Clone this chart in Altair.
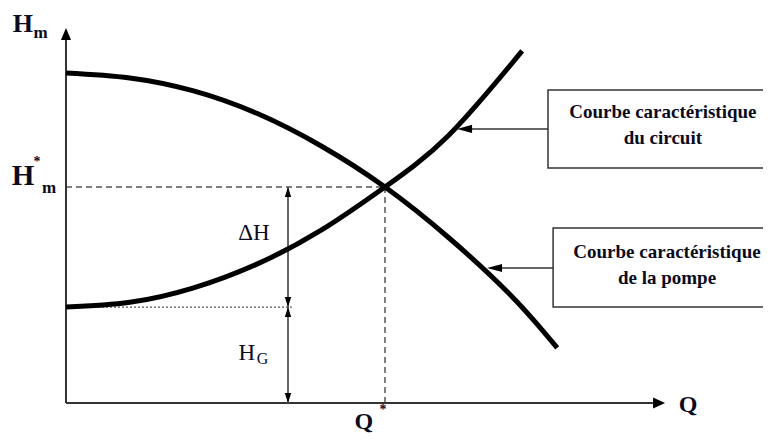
import altair as alt
import pandas as pd

# Pump characteristic curve (Q, H)
pump_q = [0, 20, 40, 60, 80, 100, 120, 140, 154]
pump_h = [152.8, 150.5, 144.5, 134, 119, 100, 76.5, 49, 25.5]

# Circuit characteristic curve
circ_q = [0, 20, 40, 60, 80, 100, 120, 143]
circ_h = [44.4, 46.6, 53.3, 64.4, 80, 100, 124, 163]

# Operating point and static head
Q_STAR = 100
H_STAR = 100
H_G = 44.4
DH_Q = 69.6

XDOM = [-18.18, 218.5]
YDOM = [-14.81, 182.87]
xs = alt.Scale(domain=XDOM, nice=False, zero=False)
ys = alt.Scale(domain=YDOM, nice=False, zero=False)

def X(f="x"):
    return alt.X(f"{f}:Q", scale=xs, axis=None)

def Y(f="y"):
    return alt.Y(f"{f}:Q", scale=ys, axis=None)

curves = pd.DataFrame(
    [{"c": "pompe", "x": q, "y": h, "o": i} for i, (q, h) in enumerate(zip(pump_q, pump_h))]
    + [{"c": "circuit", "x": q, "y": h, "o": i} for i, (q, h) in enumerate(zip(circ_q, circ_h))]
)

curve_layer = alt.Chart(curves).mark_line(
    color="black", strokeWidth=5, interpolate="natural", strokeCap="butt"
).encode(x=X(), y=Y(), detail="c:N", order="o:Q")

# axes
axes = pd.DataFrame([
    {"x": 0, "x2": 0, "y": 0, "y2": 168},
    {"x": 0, "x2": 184, "y": 0, "y2": 0},
])
axes_layer = alt.Chart(axes).mark_rule(color="#333", strokeWidth=2).encode(
    x=X(), x2="x2:Q", y=Y(), y2="y2:Q")

dashed = pd.DataFrame([
    {"x": 0, "x2": Q_STAR, "y": H_STAR, "y2": H_STAR},
    {"x": Q_STAR, "x2": Q_STAR, "y": 0, "y2": H_STAR},
])
dashed_layer = alt.Chart(dashed).mark_rule(color="#555", strokeWidth=1.5, strokeDash=[6, 4]).encode(
    x=X(), x2="x2:Q", y=Y(), y2="y2:Q")

dotted = pd.DataFrame([{"x": 0, "x2": 70.8, "y": H_G, "y2": H_G}])
dotted_layer = alt.Chart(dotted).mark_rule(color="#555", strokeWidth=1.2, strokeDash=[2, 2]).encode(
    x=X(), x2="x2:Q", y=Y(), y2="y2:Q")

grey = pd.DataFrame([
    {"x": DH_Q, "x2": DH_Q, "y": 0, "y2": H_STAR},
    {"x": 126, "x2": 151.1, "y": 126.9, "y2": 126.9},
    {"x": 135, "x2": 152.7, "y": 62.5, "y2": 62.5},
])
grey_layer = alt.Chart(grey).mark_rule(color="#666", strokeWidth=2).encode(
    x=X(), x2="x2:Q", y=Y(), y2="y2:Q")

UP = "M0,0L-0.42,1L0.42,1Z"
UP_S = "M0,0L-0.32,1L0.32,1Z"
DOWN_S = "M0,0L-0.32,-1L0.32,-1Z"
RIGHT = "M0,0L-1,-0.45L-1,0.45Z"
LEFT = "M0,0L1,-0.27L1,0.27Z"
heads = pd.DataFrame([
    {"x": 0, "y": 173.6, "s": UP, "z": 576},
    {"x": 187.8, "y": 0, "s": RIGHT, "z": 576},
    {"x": DH_Q, "y": H_STAR, "s": UP_S, "z": 400},
    {"x": DH_Q, "y": H_G, "s": DOWN_S, "z": 400},
    {"x": DH_Q, "y": H_G, "s": UP_S, "z": 400},
    {"x": DH_Q, "y": 0, "s": DOWN_S, "z": 400},
    {"x": 122.6, "y": 126.9, "s": LEFT, "z": 900},
    {"x": 132, "y": 62.5, "s": LEFT, "z": 900},
])
heads_layer = alt.Chart(heads).mark_point(filled=True, color="black", opacity=1, strokeWidth=0).encode(
    x=X(), y=Y(),
    shape=alt.Shape("s:N", scale=None),
    size=alt.Size("z:Q", scale=None))

boxes = pd.DataFrame([
    {"x": 151.1, "x2": 240, "y": 108.8, "y2": 144.9},
    {"x": 152.7, "x2": 240, "y": 44.4, "y2": 81.0},
])
box_layer = alt.Chart(boxes).mark_rect(fill="white", stroke="#333", strokeWidth=1.5, clip=True).encode(
    x=X(), x2="x2:Q", y=Y(), y2="y2:Q")

FONT = "Liberation Serif, Times New Roman, serif"
labels = pd.DataFrame([
    {"t": "H", "x": -13.5, "y": 175.5, "fs": 26, "w": "bold"},
    {"t": "m", "x": -8.0, "y": 171.3, "fs": 17, "w": "bold"},
    {"t": "H", "x": -13.5, "y": 105.1, "fs": 29, "w": "bold"},
    {"t": "*", "x": -9.1, "y": 111.6, "fs": 14, "w": "bold"},
    {"t": "m", "x": -5.3, "y": 99.5, "fs": 17, "w": "bold"},
    {"t": "Q", "x": 195, "y": -0.9, "fs": 24, "w": "bold"},
    {"t": "Q", "x": 93.4, "y": -8.6, "fs": 24, "w": "bold"},
    {"t": "*", "x": 99.4, "y": -3.2, "fs": 14, "w": "bold"},
    {"t": "ΔH", "x": 58.9, "y": 78.7, "fs": 23, "w": "normal"},
    {"t": "H", "x": 56.7, "y": 23.1, "fs": 23, "w": "normal"},
    {"t": "G", "x": 61.6, "y": 20.6, "fs": 16, "w": "normal"},
    {"t": "Courbe caractéristique", "x": 187.1, "y": 134.7, "fs": 19, "w": "bold"},
    {"t": "du circuit", "x": 187.1, "y": 122.5, "fs": 19, "w": "bold"},
    {"t": "Courbe caractéristique", "x": 188.4, "y": 69.9, "fs": 19, "w": "bold"},
    {"t": "de la pompe", "x": 188.4, "y": 57.7, "fs": 19, "w": "bold"},
])
label_layers = []
for w in ["bold", "normal"]:
    for fs in sorted(labels["fs"].unique()):
        sub = labels[(labels.w == w) & (labels.fs == fs)]
        if len(sub) == 0:
            continue
        label_layers.append(
            alt.Chart(sub).mark_text(font=FONT, fontSize=int(fs), fontWeight=w, color="#0b0b1e",
                                     align="center", baseline="middle").encode(
                x=X(), y=Y(), text="t:N"))

chart = alt.layer(
    dashed_layer, dotted_layer, axes_layer, grey_layer, box_layer, curve_layer, heads_layer,
    *label_layers
).properties(
    width=755, height=427, padding=0, autosize=alt.AutoSizeParams(type="none"), background="white"
).configure_view(stroke=None)

chart.save("out.html", embed_options={"renderer": "svg", "actions": False})
